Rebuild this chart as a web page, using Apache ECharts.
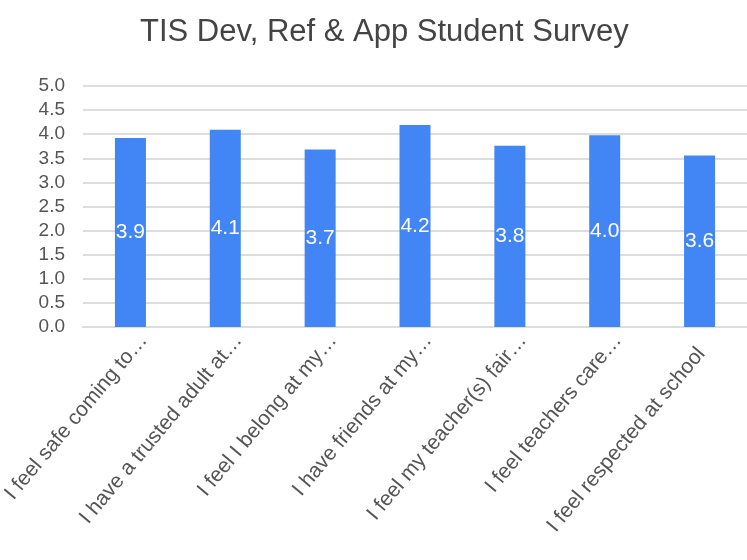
<!DOCTYPE html>
<html>
<head>
<meta charset="utf-8">
<script src="https://cdn.jsdelivr.net/npm/echarts@6/dist/echarts.min.js"></script>
<style>
html,body{margin:0;padding:0;background:#fff;}
#chart{width:747px;height:560px;}
</style>
</head>
<body>
<div id="chart"></div>
<script>
const titleText = 'TIS Dev, Ref & App Student Survey';
const categories = [
  'I feel safe coming to\u2026',
  'I have a trusted adult at\u2026',
  'I feel I belong at my\u2026',
  'I have friends at my\u2026',
  'I feel my teacher(s) fair\u2026',
  'I feel teachers care\u2026',
  'I feel respected at school'
];
const values = [3.92, 4.09, 3.68, 4.19, 3.76, 3.98, 3.56];
const yTicks = [0, 0.5, 1, 1.5, 2, 2.5, 3, 3.5, 4, 4.5, 5];

const chart = echarts.init(document.getElementById('chart'), null, {renderer: 'canvas'});
const font = 'Arial, "Liberation Sans", sans-serif';
chart.setOption({
  animation: false,
  backgroundColor: '#ffffff',
  title: {
    text: titleText,
    left: 135,
    top: 12,
    textStyle: {fontFamily: font, fontSize: 31, fontWeight: 'normal', color: '#444444'}
  },
  grid: {left: 83, right: 0, top: 86, height: 241, containLabel: false, outerBoundsMode: 'none'},
  xAxis: {
    type: 'category',
    data: categories,
    axisLine: {show: true, lineStyle: {color: '#dddddd', width: 2}},
    axisTick: {show: false},
    axisLabel: {
      rotate: 50,
      interval: 0,
      margin: -1,
      verticalAlign: 'top',
      lineHeight: 34,
      fontFamily: font,
      fontSize: 21,
      color: '#555555',
      // untruncated labels end a little earlier along the text direction
      formatter: v => v.endsWith('\u2026') ? v : v + '\u00a0\u00a0\u00a0'
    }
  },
  yAxis: {
    type: 'value',
    min: yTicks[0],
    max: yTicks[yTicks.length - 1],
    interval: 0.5,
    axisLine: {show: false},
    axisTick: {show: false},
    splitLine: {lineStyle: {color: '#dddddd', width: 2}},
    axisLabel: {
      margin: 18,
      fontFamily: font,
      fontSize: 19,
      color: '#555555',
      formatter: v => v.toFixed(1)
    }
  },
  series: [{
    type: 'bar',
    data: values,
    barWidth: 31,
    itemStyle: {color: '#4285f4'},
    label: {
      show: true,
      position: 'inside',
      fontFamily: font,
      fontSize: 21,
      color: '#ffffff',
      formatter: p => p.value.toFixed(1)
    }
  }]
});
</script>
</body>
</html>
